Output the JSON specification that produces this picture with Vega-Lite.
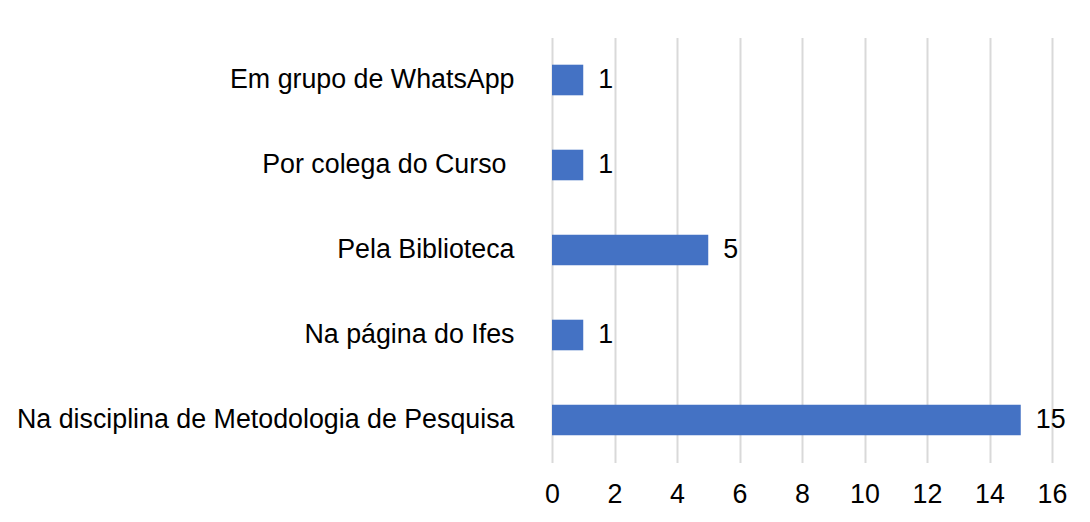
{
  "$schema": "https://vega.github.io/schema/vega-lite/v6.json",
  "width": 500,
  "height": 425,
  "autosize": {"type": "none"},
  "padding": {"left": 552, "top": 37.5, "right": 38, "bottom": 59.5},
  "background": "white",
  "config": {
    "view": {"stroke": null},
    "font": "Liberation Sans"
  },
  "data": {
    "values": [
      {"categoria": "Em grupo de WhatsApp", "n": 1},
      {"categoria": "Por colega do Curso ", "n": 1},
      {"categoria": "Pela Biblioteca", "n": 5},
      {"categoria": "Na página do Ifes", "n": 1},
      {"categoria": "Na disciplina de Metodologia de Pesquisa", "n": 15}
    ]
  },
  "encoding": {
    "y": {
      "field": "categoria",
      "type": "nominal",
      "sort": null,
      "scale": {"paddingInner": 0.64, "paddingOuter": 0.32},
      "axis": {
        "title": null,
        "domain": false,
        "ticks": false,
        "labelPadding": {"condition": {"test": "datum.value == 'Por colega do Curso '", "value": 46}, "value": 38},
        "labelFontSize": 26.8,
        "labelColor": "#000000",
        "labelFont": "Liberation Sans",
        "labelLimit": 600
      }
    },
    "x": {
      "field": "n",
      "type": "quantitative",
      "scale": {"domain": [0, 16], "nice": false},
      "axis": {
        "title": null,
        "domain": false,
        "ticks": false,
        "values": [0, 2, 4, 6, 8, 10, 12, 14, 16],
        "labelFlush": false,
        "labelOverlap": false,
        "labelPadding": 19,
        "labelFontSize": 26.8,
        "labelColor": "#000000",
        "labelFont": "Liberation Sans",
        "gridColor": "#d9d9d9",
        "gridWidth": 2,
        "gridOpacity": 1
      }
    }
  },
  "layer": [
    {"mark": {"type": "bar", "color": "#4472C4"}},
    {
      "mark": {"type": "text", "align": "left", "baseline": "middle", "dx": 15, "fontSize": 26.8, "color": "#000000", "font": "Liberation Sans"},
      "encoding": {"text": {"field": "n", "type": "quantitative"}}
    }
  ]
}
